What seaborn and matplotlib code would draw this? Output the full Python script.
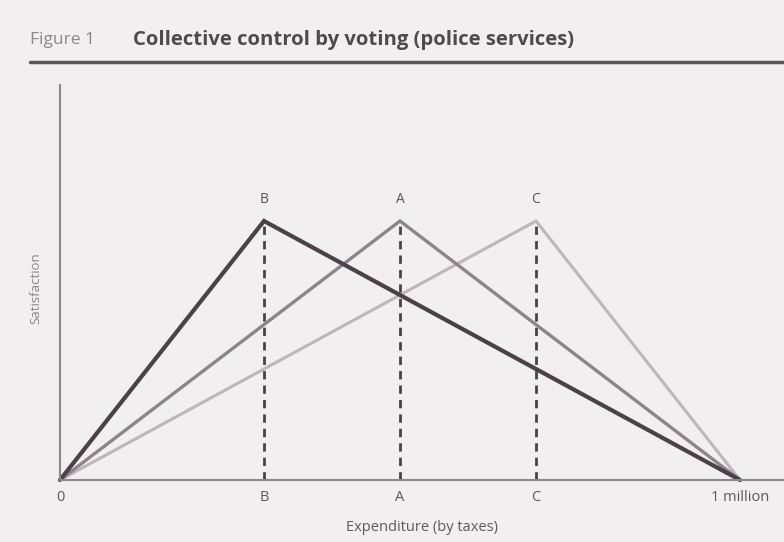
import matplotlib
matplotlib.use("Agg")
import matplotlib.pyplot as plt
import seaborn as sns
import pandas as pd

# Data (expenditure in millions, satisfaction in arbitrary units)
voters = ["B", "A", "C"]
ideal_points = [0.3, 0.5, 0.7]          # preferred expenditure of each voter
peak_satisfaction = [1.0, 1.0, 1.0]
max_expenditure = 1.0
tick_positions = [0, 0.3, 0.5, 0.7, 1.0]
tick_labels = ["0", "B", "A", "C", "1 million"]
line_colors = {"B": "#4b4147", "A": "#8e858b", "C": "#bdb6ba"}
line_widths = {"B": 3.0, "A": 2.4, "C": 2.2}

rows = []
for v, p, s in zip(voters, ideal_points, peak_satisfaction):
    for x, y in [(0, 0), (p, s), (max_expenditure, 0)]:
        rows.append({"voter": v, "expenditure": x, "satisfaction": y})
df = pd.DataFrame(rows)

sns.set_style("white")
plt.rcParams["font.family"] = ["Open Sans", "DejaVu Sans"]

W, H = 784, 542
fig = plt.figure(figsize=(W / 100, H / 100), dpi=100)
fig.patch.set_facecolor("#f1eff0")

# axes placement in pixels
x0, x1 = 60, 784
y_bot, y_top = 480, 85
ax = fig.add_axes([x0 / W, (H - y_bot) / H, (x1 - x0) / W, (y_bot - y_top) / H])
ax.set_facecolor("none")

# draw in order so B (darkest) is on top
for v in ["C", "A", "B"]:
    sns.lineplot(data=df[df.voter == v], x="expenditure", y="satisfaction",
                 color=line_colors[v], linewidth=line_widths[v], ax=ax,
                 sort=False, estimator=None, solid_joinstyle="miter", clip_on=False)

for v, p, s in zip(voters, ideal_points, peak_satisfaction):
    ax.plot([p, p], [0, s], color="#484346", linewidth=2.0, linestyle=(0, (3.0, 2.2)), zorder=1)
    ax.text(p, s + 0.055, v, ha="center", va="bottom", fontsize=10, color="#5a5558")

ax.set_xlim(0, (x1 - x0) / 680)
ax.set_ylim(0, (y_bot - y_top) / 259)

for side in ["top", "right"]:
    ax.spines[side].set_visible(False)
for side in ["left", "bottom"]:
    ax.spines[side].set_color("#8d888b")
    ax.spines[side].set_linewidth(1.5)

ax.set_xticks(tick_positions)
ax.set_xticklabels(tick_labels, fontsize=10.5, color="#5e595c")
ax.tick_params(axis="x", length=0, pad=7)
ax.set_yticks([])
ax.set_xlabel("Expenditure (by taxes)", fontsize=10.5, color="#5e595c", labelpad=11)
ax.set_ylabel("")
fig.text(36 / W, 1 - 288 / H, "Satisfaction", rotation=90, ha="center", va="center",
         fontsize=9.5, color="#8a8588")

# Header
fig.text(30 / W, 1 - 40 / H, "Figure 1", fontsize=12.5, color="#8c8789", va="center")
fig.text(133 / W, 1 - 40 / H, "Collective control by voting (police services)",
         fontsize=14.6, fontweight="bold", color="#4f4a4d", va="center")
fig.add_artist(plt.Line2D([30 / W, 1.0], [1 - 62 / H, 1 - 62 / H], color="#5a5558",
                          linewidth=2.5, transform=fig.transFigure))

fig.savefig("out.png", dpi=100, facecolor=fig.get_facecolor())
